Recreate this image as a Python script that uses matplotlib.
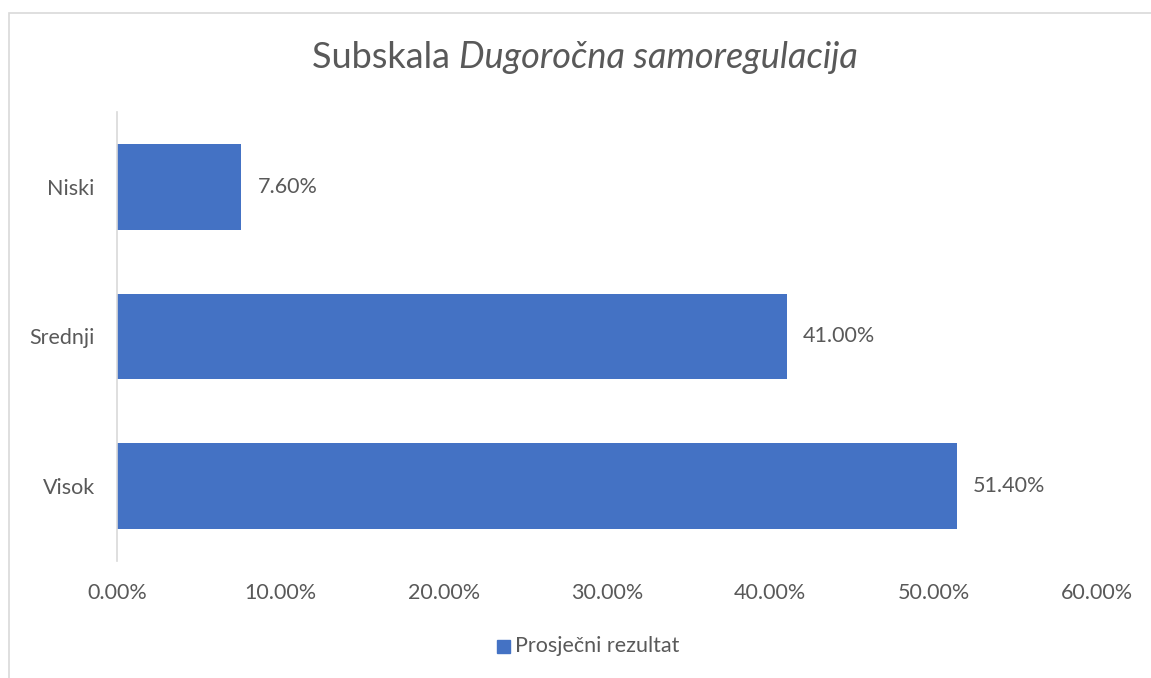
import matplotlib
matplotlib.use("Agg")
import matplotlib.pyplot as plt
from matplotlib.ticker import FuncFormatter
from matplotlib.patches import Rectangle

categories = ["Visok", "Srednji", "Niski"]
values = [51.40, 41.00, 7.60]
xticks = [0, 10, 20, 30, 40, 50, 60]
series_name = "Prosječni rezultat"

plt.rcParams['font.family'] = ['Lato', 'DejaVu Sans']
txt = "#595959"
bar_color = "#4472C4"
fs = 15.5

fig = plt.figure(figsize=(11.51, 6.78), dpi=100)
ax = fig.add_axes([117/1151, 1-561/678, (1097-117)/1151, (561-112)/678])

y = list(range(len(categories)))
ax.barh(y, values, height=0.573, color=bar_color, label=series_name)
for yi, v in zip(y, values):
    ax.text(v + 1.0, yi, f"{v:.2f}%", va="center", ha="left", fontsize=fs, color=txt)

ax.set_xlim(0, 60)
ax.set_ylim(-0.5, 2.5)
ax.set_yticks(y)
ax.set_yticklabels(categories)
ax.set_xticks(xticks)
ax.xaxis.set_major_formatter(FuncFormatter(lambda v, p: f"{v:.2f}%"))
ax.tick_params(axis="both", length=0, labelsize=fs, labelcolor=txt)
ax.tick_params(axis="y", pad=16)
ax.tick_params(axis="x", pad=16)
for s in ["top", "right", "bottom"]:
    ax.spines[s].set_visible(False)
ax.spines["left"].set_color("#d9d9d9")
ax.spines["left"].set_linewidth(1.2)

# title in two parts, centered as a whole
ty = 1 - 57/678
t1 = fig.text(0, ty, "Subskala ", ha="left", va="center", fontsize=26, color=txt)
t2 = fig.text(0, ty, "Dugoročna samoregulacija", ha="left", va="center",
              fontsize=26, color=txt, style="italic")
fig.canvas.draw()
r = fig.canvas.get_renderer()
w1 = t1.get_window_extent(r).width
w2 = t2.get_window_extent(r).width
x0 = 585 - (w1 + w2) / 2
t1.set_x(x0 / 1151)
t2.set_x((x0 + w1) / 1151)

# legend
fig.patches.append(Rectangle((497/1151, 1-653/678), 13/1151, 13/678,
                             transform=fig.transFigure, color=bar_color))
fig.text(515/1151, 1-646/678, series_name, ha="left", va="center", fontsize=fs, color=txt)

# chart border
fig.patches.append(Rectangle((8.5/1151, -0.01), 1.05, 1 - 12.5/678 + 0.01,
                             transform=fig.transFigure, fill=False,
                             edgecolor="#d9d9d9", linewidth=1.2))

fig.savefig("out.png", dpi=100)
